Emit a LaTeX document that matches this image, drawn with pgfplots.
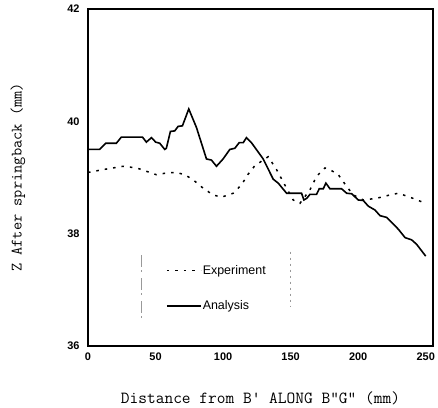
\documentclass[border=0pt]{standalone}
\usepackage{pgfplots}
\pgfplotsset{compat=1.18}
\usepackage{fontspec}
\setmainfont{Liberation Sans}
\begin{document}
\begin{tikzpicture}
\path[use as bounding box] (-88bp,-62bp) rectangle (350bp,346bp);
\begin{axis}[
  at={(0,0)}, anchor=south west,
  scale only axis, width=345bp, height=337bp,
  xmin=0, xmax=255.4, ymin=36, ymax=42,
  xtick={0,50,100,150,200,250}, ytick={36,38,40,42},
  major tick length=0pt,
  axis line style={line width=1.6bp},
  /pgf/number format/assume math mode=true,
  ticklabel style={font=\fontsize{11}{12}\selectfont\bfseries},
  xticklabel style={yshift=-3bp},
  yticklabel style={xshift=-5bp},
  xlabel={\fontsize{17}{20}\selectfont\ttfamily Distance from B' ALONG B"G" (mm)},
  ylabel={\fontsize{16}{19}\selectfont\ttfamily Z After springback (mm)},
  xlabel style={at={(0.5,0)}, anchor=center, yshift=-52bp},
  ylabel style={at={(0,0.5)}, anchor=center, yshift=70bp},
  legend style={draw=none, fill=none, at={(rel axis cs:0.226,0.243)}, anchor=north west,
    font=\fontsize{12.5}{14}\selectfont, row sep=23bp, inner sep=0pt,
    nodes={inner sep=1bp}},
  legend cell align=left,
  legend image code/.code={\draw[#1] (0bp,0bp) -- (34bp,0bp);},
]
\addplot[black, line width=1.5bp, dash pattern=on 2.5bp off 6bp] coordinates {
(0,39.09)(11,39.14)(26,39.20)(36,39.17)(45.7,39.09)(50.6,39.05)(58,39.08)(65.5,39.09)
(71.6,39.05)(77.8,38.96)(85.2,38.81)(92.6,38.69)(98.8,38.65)(107.5,38.72)(113.6,38.87)
(118.6,39.06)(123.5,39.21)(129.7,39.31)(133.4,39.37)(139.6,39.14)(147,38.81)(151.9,38.60)
(156.9,38.54)(164.3,38.78)(169.2,39.02)(175.4,39.17)(179.1,39.14)(185.3,39.05)(191.5,38.84)
(196.4,38.69)(203.8,38.60)(213.7,38.63)(223.6,38.69)(229.7,38.72)(237.2,38.66)(250,38.54)
};
\addlegendentry{Experiment}
\addplot[black, line width=1.6bp] coordinates {
(0,39.50)(8.6,39.50)(13.1,39.61)(21,39.61)(24.7,39.72)(40.3,39.72)(43.2,39.63)(47,39.71)
(50.1,39.63)(53.1,39.61)(56.8,39.50)(58.0,39.52)(61,39.82)(64.2,39.83)(66.7,39.91)(69.9,39.92)
(74.6,40.22)(80.3,39.89)(87.7,39.33)(91.4,39.31)(95.1,39.20)(100,39.33)(105,39.50)(108.7,39.52)
(111.9,39.62)(114.9,39.62)(117.3,39.71)(121,39.62)(129.7,39.33)(137.1,38.97)(140.8,38.90)
(147,38.72)(158.1,38.72)(159.8,38.60)(162,38.63)(164.3,38.70)(169.2,38.70)(171.2,38.80)
(174.2,38.80)(176.1,38.90)(179.1,38.80)(187.7,38.80)(191.5,38.72)(195.2,38.71)(200.1,38.60)
(203.8,38.59)(207.5,38.49)(212.5,38.42)(216.2,38.32)(221.1,38.29)(224.8,38.20)(229.7,38.08)
(234.7,37.93)(239.6,37.89)(243.3,37.81)(250,37.60)
};
\addlegendentry{Analysis}
\addplot[forget plot, gray!80, line width=0.7bp, dash pattern=on 12bp off 3bp on 2bp off 6bp] coordinates {(39.75,37.62)(39.75,36.41)};
\addplot[forget plot, gray!80, line width=0.6bp, dash pattern=on 2bp off 4bp] coordinates {(149.5,37.68)(149.5,36.70)};
\end{axis}
\end{tikzpicture}
\end{document}
